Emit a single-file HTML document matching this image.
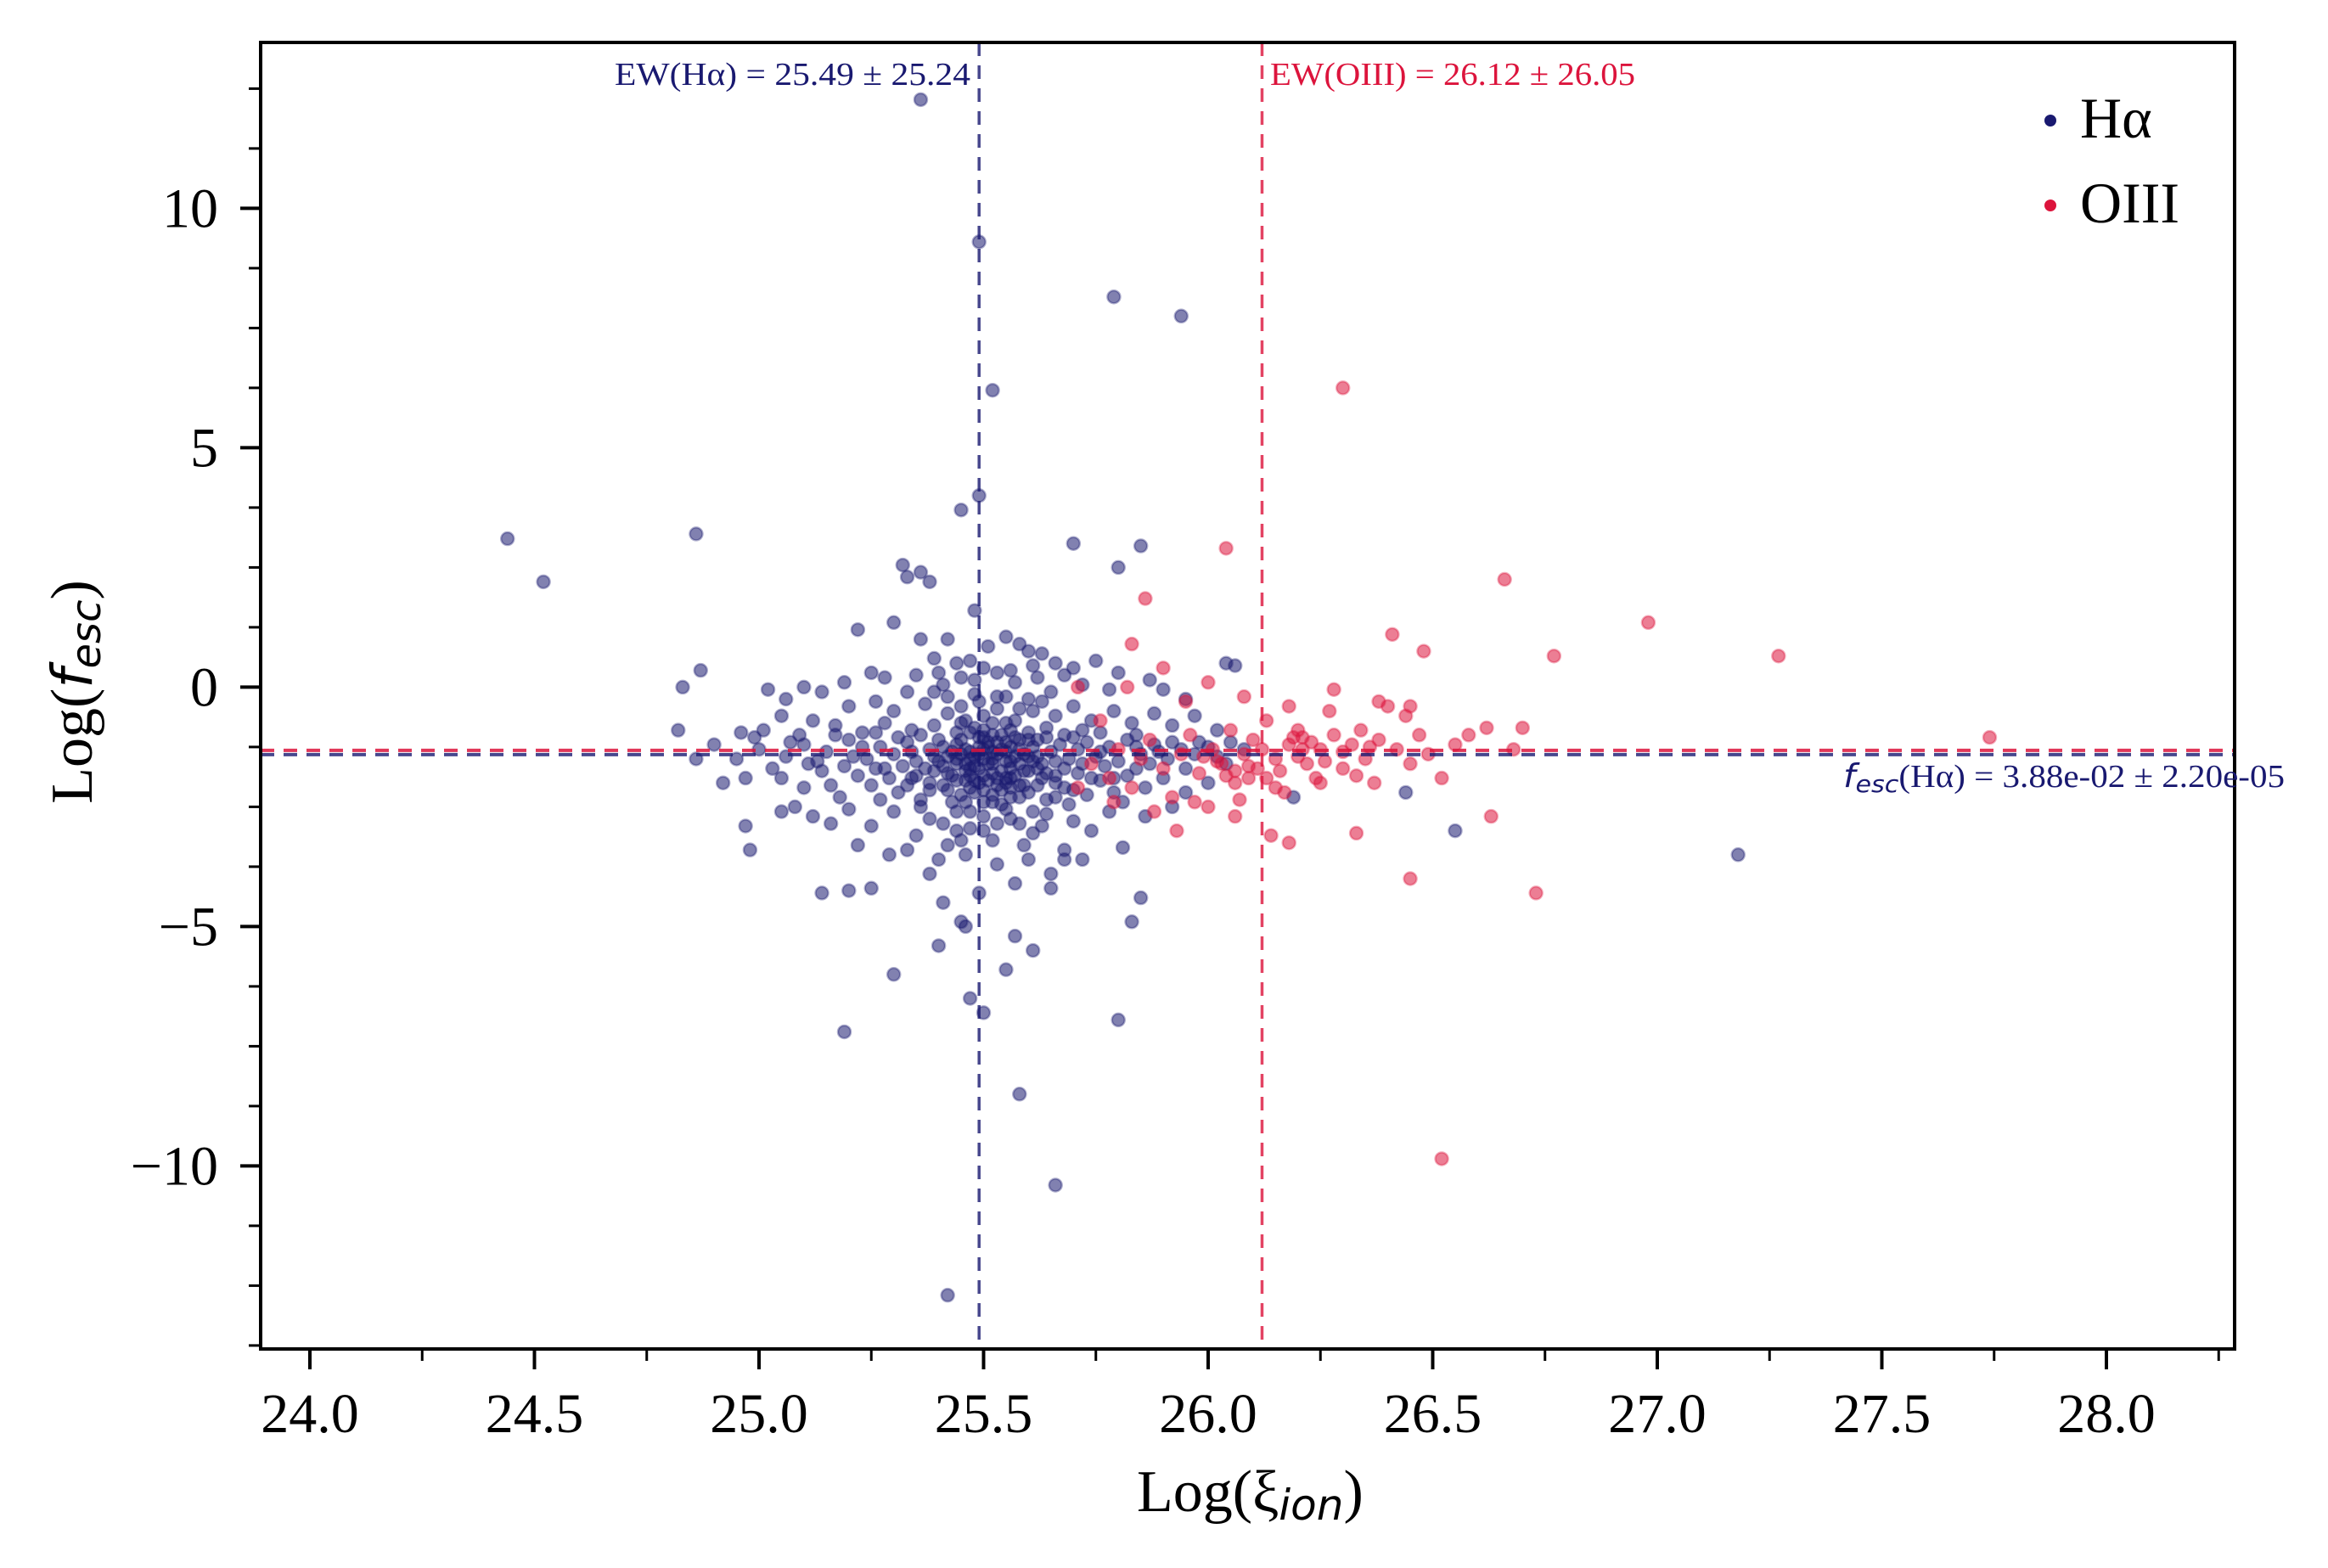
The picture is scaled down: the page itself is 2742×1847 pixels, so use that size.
<!DOCTYPE html>
<html><head><meta charset="utf-8"><style>
html,body{margin:0;padding:0;background:#fff;font-family:"Liberation Serif","Times New Roman",Times,serif}
svg{display:block}
svg text{font-family:"Liberation Serif","Times New Roman",Times,serif}
</style></head><body>
<svg id="chart" width="2742" height="1847" viewBox="0 0 2742 1847" xmlns="http://www.w3.org/2000/svg" font-family="Liberation Serif, Times New Roman, serif">
<rect x="0" y="0" width="2742" height="1847" fill="#fff"/>
<g id="points"></g>
<g id="refs"></g>
<rect x="307" y="50" width="2325" height="1539" fill="none" stroke="#000" stroke-width="4"/>
<g id="axes"></g>
<text x="1339" y="1780" font-size="70" font-family="Liberation Serif, serif">Log(ξ<tspan font-family="DejaVu Sans" font-style="italic" font-size="50" dy="10">ion</tspan><tspan dy="-10">)</tspan></text>
<text transform="translate(108,815) rotate(-90)" text-anchor="middle" font-size="70" font-family="Liberation Serif, serif">Log(<tspan font-family="DejaVu Sans" font-style="italic" font-size="66">f</tspan><tspan font-family="DejaVu Sans" font-style="italic" font-size="48" dy="10">esc</tspan><tspan dy="-10">)</tspan></text>
<g>
<circle cx="2415" cy="142" r="7" fill="#191970"/>
<text x="2450" y="162" font-size="68" font-family="Liberation Serif, serif">Hα</text>
<circle cx="2415" cy="242" r="7" fill="#dc143c"/>
<text x="2450" y="262" font-size="68" font-family="Liberation Serif, serif">OIII</text>
</g>
<text x="1143" y="100" text-anchor="end" font-size="38" fill="#191970" font-family="Liberation Serif, serif" textLength="419" lengthAdjust="spacingAndGlyphs">EW(Hα) = 25.49 ± 25.24</text>
<text x="1496" y="100" font-size="38" fill="#dc143c" font-family="Liberation Serif, serif" textLength="430" lengthAdjust="spacingAndGlyphs">EW(OIII) = 26.12 ± 26.05</text>
<text x="2171" y="927" font-size="38" fill="#191970" font-family="Liberation Serif, serif" textLength="520" lengthAdjust="spacingAndGlyphs"><tspan font-family="DejaVu Sans" font-style="italic">f</tspan><tspan font-family="DejaVu Sans" font-style="italic" font-size="28" dy="6">esc</tspan><tspan dy="-6">(Hα) = 3.88e-02 ± 2.20e-05</tspan></text>
</svg>
<script>
const xTicks=[24.0,24.5,25.0,25.5,26.0,26.5,27.0,27.5,28.0];
const xTickLabels=["24.0","24.5","25.0","25.5","26.0","26.5","27.0","27.5","28.0"];
const yTicks=[-10,-5,0,5,10];
const yTickLabels=["\u221210","\u22125","0","5","10"];
const ewHalpha=25.49;
const ewOIII=26.12;
const fescHalpha=-1.41;
const fescOIII=-1.32;
const haPoints=[
[25.36,12.27],[25.49,9.3],[25.79,8.15],[25.94,7.75],[25.52,6.2],[24.44,3.1],[24.52,2.2],[24.86,3.2],[25.49,4.0],[25.45,3.7],[25.70,3.0],[25.85,2.95],[25.80,2.5],[25.32,2.55],[25.36,2.4],[25.38,2.2],[25.33,2.3],
[24.87,0.35],[24.83,0.0],[24.82,-0.9],[24.86,-1.5],[24.97,-2.9],[24.98,-3.4],[25.05,-2.6],[25.14,-4.3],[25.2,-4.25],[25.25,-4.2],[25.19,-7.2],[25.3,-6.0],[25.50,-6.8],[25.55,-5.9],[25.58,-8.5],[25.66,-10.4],[25.42,-12.7],[25.8,-6.95],[25.83,-4.9],[25.85,-4.4],[27.18,-3.5],[26.55,-3.0],[26.44,-2.2],[26.19,-2.3],[26.04,0.5],[25.45,-4.9],[25.41,-4.5],[25.4,-5.4],[25.46,-5.0],[25.47,-6.5],[25.57,-5.2],[25.61,-5.5],[25.65,-4.2],[25.68,-3.6],
[25.42,1.0],[25.48,1.6],[25.55,1.05],[25.58,0.9],[25.6,0.75],[25.63,0.7],[25.36,1.0],[25.22,1.2],[25.30,1.35],[25.39,0.6],[25.47,0.55],[25.5,0.4],[25.53,0.3],[25.45,0.2],[25.66,0.5],[25.7,0.4],[25.75,0.55],[25.68,0.25],[25.62,0.2],[25.57,0.1],[25.35,0.25],[25.28,0.2],[25.25,0.3],[25.41,0.05],[25.33,-0.1],[25.19,0.1],[25.14,-0.1],[25.72,0.05],[25.8,0.3],[25.87,0.15],[25.78,-0.05],[25.65,-0.1],[25.55,-0.2],[25.48,-0.15],[25.06,-0.25],[25.02,-0.05],[25.1,0.0],[25.9,-0.05],[25.95,-0.25],[26.06,0.45],
[25.2,-0.4],[25.26,-0.3],[25.3,-0.5],[25.37,-0.35],[25.42,-0.55],[25.45,-0.4],[25.5,-0.6],[25.53,-0.45],[25.57,-0.7],[25.61,-0.5],[25.66,-0.6],[25.7,-0.4],[25.74,-0.7],[25.79,-0.5],[25.83,-0.75],[25.88,-0.55],[25.92,-0.8],[25.97,-0.6],[26.02,-0.9],[25.12,-0.7],[25.17,-0.8],[25.23,-0.95],[25.28,-0.75],[25.34,-0.9],[25.39,-0.8],[25.44,-0.95],[25.48,-0.85],[25.52,-1.0],[25.56,-0.9],[25.6,-0.95],[25.64,-0.85],[25.68,-1.0],[25.72,-0.9],[25.76,-0.95],[25.84,-1.0],[25.05,-0.6],[25.01,-0.9],[24.96,-0.95],[25.09,-1.0],
[25.1,-1.2],[25.15,-1.35],[25.2,-1.1],[25.24,-1.5],[25.27,-1.25],[25.3,-1.4],[25.33,-1.15],[25.35,-1.55],[25.38,-1.3],[25.4,-1.1],[25.42,-1.45],[25.44,-1.2],[25.46,-1.6],[25.47,-1.35],[25.49,-1.05],[25.5,-1.5],[25.51,-1.25],[25.53,-1.4],[25.55,-1.15],[25.56,-1.55],[25.58,-1.3],[25.6,-1.45],[25.62,-1.1],[25.63,-1.6],[25.65,-1.35],[25.67,-1.2],[25.69,-1.5],[25.71,-1.3],[25.73,-1.15],[25.75,-1.45],[25.78,-1.25],[25.8,-1.55],[25.82,-1.1],[25.85,-1.4],[25.88,-1.2],[25.91,-1.5],[25.94,-1.3],[25.98,-1.15],[26.02,-1.45],[26.08,-1.3],[25.0,-1.3],[24.95,-1.5],[24.9,-1.2],[25.06,-1.45],[25.36,-1.0],[25.41,-1.25],[25.45,-1.4],[25.52,-1.6],[25.57,-1.05],[25.61,-1.25],
[25.05,-1.9],[25.1,-2.1],[25.14,-1.75],[25.18,-2.3],[25.22,-1.85],[25.25,-2.05],[25.28,-1.7],[25.31,-2.2],[25.34,-1.9],[25.36,-2.35],[25.39,-1.75],[25.41,-2.05],[25.43,-1.85],[25.45,-2.25],[25.47,-1.7],[25.49,-2.0],[25.5,-2.4],[25.52,-1.8],[25.54,-2.15],[25.56,-1.9],[25.58,-2.3],[25.6,-1.75],[25.62,-2.05],[25.64,-2.35],[25.66,-1.85],[25.68,-2.1],[25.71,-1.8],[25.73,-2.25],[25.76,-1.95],[25.79,-2.2],[25.82,-1.85],[25.86,-2.1],[25.9,-1.9],[25.95,-2.2],[26.0,-2.0],[24.97,-1.9],[24.92,-2.0],[25.38,-2.15],[25.46,-1.95],[25.55,-2.0],[25.63,-1.9],[25.48,-2.2],[25.33,-2.05],
[25.12,-2.7],[25.2,-2.55],[25.25,-2.9],[25.3,-2.6],[25.35,-3.1],[25.38,-2.75],[25.42,-3.3],[25.44,-2.6],[25.47,-2.95],[25.5,-2.7],[25.52,-3.2],[25.55,-2.55],[25.58,-2.85],[25.61,-3.05],[25.64,-2.65],[25.68,-3.4],[25.7,-2.8],[25.74,-3.0],[25.78,-2.6],[25.81,-3.35],[25.86,-2.7],[25.92,-2.5],[25.22,-3.3],[25.29,-3.5],[25.4,-3.6],[25.46,-3.5],[25.53,-3.7],[25.6,-3.6],[25.65,-3.9],[25.57,-4.1],[25.49,-4.3],[25.38,-3.9],[25.33,-3.4],[25.72,-3.6],[25.16,-2.85],[25.08,-2.5],
[25.46,-1.75],[25.5,-1.3],[25.53,-1.9],[25.44,-1.6],[25.56,-1.7],[25.48,-1.45],[25.58,-1.6],[25.42,-1.8],[25.51,-1.15],[25.47,-2.1],[25.54,-2.45],[25.43,-2.4],[25.59,-2.05],[25.4,-1.55],[25.37,-1.7],[25.62,-1.7],[25.66,-1.55],[25.52,-0.75],[25.46,-0.7],[25.58,-0.45],[25.49,-0.3],[25.44,0.5],[25.51,0.85],[25.4,0.3],[25.61,-2.6],[25.53,-2.85],[25.44,-3.0],[25.36,-2.5],[25.27,-2.35],[25.69,-2.45],[25.77,-1.65],[25.84,-1.7],[25.74,-1.9],[25.31,-1.05],[25.26,-1.7],[25.21,-1.45],[25.13,-1.55],[25.17,-1.0],[25.55,-1.35],[25.49,-1.7],
[25.45,-1.1],[25.47,-1.5],[25.49,-1.25],[25.5,-1.85],[25.51,-1.6],[25.52,-1.35],[25.53,-2.05],[25.54,-1.0],[25.55,-1.55],[25.56,-1.25],[25.57,-1.85],[25.58,-2.05],[25.59,-1.4],[25.6,-1.1],[25.43,-1.35],[25.44,-1.95],[25.46,-2.4],[25.48,-1.95],[25.5,-2.15],[25.52,-2.25],[25.54,-1.75],[25.56,-2.3],[25.58,-1.1],[25.6,-2.2],[25.62,-1.45],[25.64,-1.05],[25.64,-1.8],[25.66,-2.0],[25.68,-1.7],[25.7,-1.05],[25.39,-1.45],[25.38,-2.0],[25.41,-1.65],[25.42,-2.15],[25.35,-1.85],[25.34,-1.35],[25.32,-1.65],[25.29,-1.9],[25.47,-0.95],[25.45,-0.75],[25.5,-0.9],[25.55,-0.75],[25.53,-0.2],[25.6,-0.25],[25.63,-0.3],[25.42,-0.2],[25.39,-0.1],[25.48,0.15],[25.56,0.35],[25.61,0.45],
[25.47,-2.6],[25.5,-3.0],[25.56,-2.75],[25.59,-3.3],[25.45,-3.2],[25.41,-2.85],[25.63,-2.9],[25.66,-2.3],[25.7,-2.15],[25.72,-1.6],[25.76,-1.35],[25.79,-1.9],[25.81,-2.4],[25.84,-1.25],[25.87,-1.6],[25.89,-1.35],[25.92,-1.15],[25.95,-1.7],[25.97,-1.4],[26.0,-1.25],[26.04,-1.6],[26.05,-1.15],[25.26,-0.95],[25.23,-1.25],[25.19,-1.65],[25.16,-2.05],[25.11,-1.6],[25.07,-1.15],[25.03,-1.7],[24.99,-1.05],
[25.46,-1.3],[25.48,-1.65],[25.5,-1.05],[25.51,-1.95],[25.52,-1.5],[25.54,-1.3],[25.55,-1.9],[25.57,-1.45],[25.59,-1.75],[25.61,-1.55],[25.49,-1.4],[25.53,-1.15],[25.44,-1.5],[25.47,-1.85],[25.56,-2.1],[25.52,-2.4]
];
const oiiiPoints=[
[26.30,6.25],[26.04,2.9],[25.86,1.85],[26.66,2.25],[26.98,1.35],[27.27,0.65],[26.77,0.65],[26.41,1.1],[26.48,0.75],[27.74,-1.05],[26.70,-0.85],[26.73,-4.3],[26.63,-2.7],[26.45,-4.0],[26.33,-3.05],[26.52,-9.85],[25.83,0.9],[25.71,0.0],
[25.74,-1.6],[25.78,-1.9],[25.8,-1.3],[25.83,-2.1],[25.85,-1.5],[25.87,-1.1],[25.9,-1.7],[25.92,-2.3],[25.94,-1.4],[25.96,-1.0],[25.98,-1.8],[26.0,-2.5],[26.01,-1.3],[26.03,-1.6],[26.05,-0.9],[26.06,-2.0],[26.08,-1.4],[26.1,-1.1],[26.11,-1.7],[26.13,-0.7],[26.15,-1.5],[26.17,-2.2],[26.18,-1.2],[26.2,-0.9],[26.22,-1.6],[26.24,-1.9],[26.25,-1.3],[26.27,-0.5],[26.28,-1.0],[26.3,-1.7],[26.32,-1.2],[26.34,-0.9],[26.35,-1.5],[26.37,-2.0],[26.38,-1.1],[26.4,-0.4],[26.42,-1.3],[26.44,-0.6],[26.45,-1.6],[26.47,-1.0],[26.49,-1.4],[26.52,-1.9],[26.55,-1.2],[26.58,-1.0],[26.62,-0.85],[26.68,-1.3],[25.95,-0.3],[26.0,0.1],[25.9,0.4],[26.08,-0.2],[26.18,-0.4],[26.28,-0.05],[26.38,-0.3],[26.45,-0.4],[25.88,-2.6],[25.97,-2.4],[26.07,-2.35],[26.15,-2.1],[26.25,-2.0],[26.33,-1.85],[26.13,-1.9],[26.02,-1.55],[26.09,-1.65],[26.2,-1.45],[26.12,-1.3],[25.82,0.0],[25.76,-0.7],[25.71,-2.1],[25.79,-2.4],[26.06,-2.7],[26.14,-3.1],[26.18,-3.25],[25.93,-3.0],[26.21,-1.05],[26.3,-1.35],
[26.19,-1.05],[26.21,-1.3],[26.23,-1.15],[26.04,-1.85],[26.06,-1.75],[26.09,-1.9],[25.99,-1.45],[26.16,-1.75],[26.26,-1.55],[26.36,-1.25]
];
const NS='http://www.w3.org/2000/svg';
const X0=307,X1=2632,Y0=50,Y1=1589;
function xs(v){return 365+(v-24)*529;}
function ys(v){return 809.4-v*56.4;}
function mk(tag,attrs,parent){const e=document.createElementNS(NS,tag);for(const k in attrs)e.setAttribute(k,attrs[k]);parent.appendChild(e);return e;}
const pts=document.getElementById('points');
haPoints.forEach(p=>{const c=mk('circle',{cx:xs(p[0]),cy:ys(p[1]),r:7.5,fill:'#191970','fill-opacity':0.55,stroke:'#191970','stroke-opacity':0.35,'stroke-width':2.5},pts);

});
oiiiPoints.forEach(p=>{const c=mk('circle',{cx:xs(p[0]),cy:ys(p[1]),r:7.5,fill:'#dc143c','fill-opacity':0.55,stroke:'#dc143c','stroke-opacity':0.35,'stroke-width':2.5},pts);

});
const refs=document.getElementById('refs');
let l;
l=mk('line',{x1:X0,x2:X1,y1:ys(fescHalpha),y2:ys(fescHalpha),stroke:'#191970','stroke-opacity':0.8,'stroke-width':4,'stroke-dasharray':'16 11'},refs);


l=mk('line',{x1:X0,x2:X1,y1:ys(fescOIII),y2:ys(fescOIII),stroke:'#dc143c','stroke-opacity':0.85,'stroke-width':4,'stroke-dasharray':'16 11'},refs);


l=mk('line',{x1:xs(ewHalpha),x2:xs(ewHalpha),y1:Y0,y2:Y1,stroke:'#191970','stroke-opacity':0.8,'stroke-width':3.5,'stroke-dasharray':'16 11'},refs);


l=mk('line',{x1:xs(ewOIII),x2:xs(ewOIII),y1:Y0,y2:Y1,stroke:'#dc143c','stroke-opacity':0.8,'stroke-width':3.5,'stroke-dasharray':'16 11'},refs);


const ax=document.getElementById('axes');
xTicks.forEach((v,i)=>{const t=mk('line',{x1:xs(v),x2:xs(v),y1:Y1,y2:Y1+24,stroke:'#000','stroke-width':4},ax);


const tx=mk('text',{x:xs(v),y:1687,'text-anchor':'middle','font-size':66,'font-family':'Liberation Serif, serif'},ax);tx.textContent=xTickLabels[i];

});
for(let v=23.75;v<=28.3;v+=0.25){if(Math.abs(v*2-Math.round(v*2))<1e-6)continue;const px=xs(v);if(px<X0||px>X1)continue;
const t=mk('line',{x1:px,x2:px,y1:Y1,y2:Y1+14,stroke:'#000','stroke-width':3},ax);

}
yTicks.forEach((v,i)=>{const t=mk('line',{x1:X0-24,x2:X0,y1:ys(v),y2:ys(v),stroke:'#000','stroke-width':4},ax);


const tx=mk('text',{x:257,y:ys(v)+22,'text-anchor':'end','font-size':66,'font-family':'Liberation Serif, serif'},ax);tx.textContent=yTickLabels[i];

});
for(let k=-11;k<=11;k++){const v=k*1.25;if(k%4===0)continue;const py=ys(v);if(py<Y0||py>Y1)continue;
const t=mk('line',{x1:X0-14,x2:X0,y1:py,y2:py,stroke:'#000','stroke-width':3},ax);

}
</script>
</body></html>
